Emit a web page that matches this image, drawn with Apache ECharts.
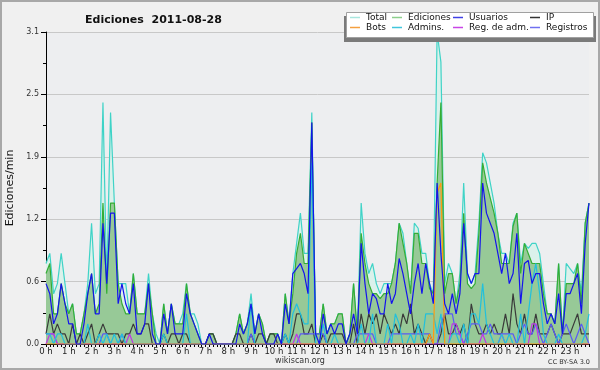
<!DOCTYPE html>
<html><head><meta charset="utf-8">
<script src="https://cdn.jsdelivr.net/npm/echarts@6/dist/echarts.min.js"></script>
<style>html,body{margin:0;padding:0;background:#f0f0f0}#c{width:600px;height:370px}</style>
</head><body><div id="c"></div>
<script>
const hourLabels = ['0 h','1 h','2 h','3 h','4 h','5 h','6 h','7 h','8 h','9 h','10 h','11 h','12 h','13 h','14 h','15 h','16 h','17 h','18 h','19 h','20 h','21 h','22 h','23 h'];
const minuteSlots = ['00','10','20','30','40','50'];
const yTicks = [0, 0.62, 1.24, 1.86, 2.48, 3.1];

// one row per hour, six 10-minute slots each
const total = [
0.8,0.9,0.5,0.6,0.9,0.6,  0.3,0.4,0.1,0.1,0.3,0.6,  1.2,0.5,0.6,2.4,0.6,2.3,  1.4,0.6,0.6,0.6,0.3,0.7,
0.3,0.3,0.3,0.7,0.3,0.1,  0,0.4,0.1,0.4,0.2,0.2,    0.3,0.6,0.3,0.3,0.2,0,    0,0.1,0.1,0,0,0,
0,0,0.1,0.3,0.1,0.2,      0.5,0.1,0.3,0.2,0,0.1,    0.1,0.1,0,0.5,0.2,0.7,    1.0,1.3,0.9,0.9,2.3,0.1,
0.1,0.4,0.1,0.2,0.2,0.3,  0.3,0,0.1,0.6,0.1,1.4,    0.9,0.7,0.8,0.6,0.5,0.6,  0.6,0.6,0.8,1.2,1.1,0.8,
0.5,1.2,1.15,0.9,0.9,0.6, 0.5,3.1,2.8,0.6,0.8,0.7,  0.4,0.7,1.6,0.7,0.6,0.7,  1.2,1.9,1.8,1.6,1.4,1.1,
0.9,0.9,0.8,1.2,1.3,0.8,  1.0,0.95,1.0,1.0,0.9,0.6, 0.3,0.3,0.2,0.8,0.1,0.8,  0.75,0.7,0.8,0.5,1.2,1.4];
const ediciones = [
0.7,0.8,0.3,0.3,0.6,0.4,  0.3,0.4,0.1,0.1,0.3,0.5,  0.7,0.3,0.4,1.4,0.5,1.4,  1.4,0.6,0.4,0.3,0.3,0.7,
0.3,0.3,0.3,0.6,0.3,0,    0,0.4,0.1,0.4,0.2,0.2,    0.2,0.6,0.3,0.2,0.1,0,    0,0.1,0.1,0,0,0,
0,0,0.1,0.3,0.1,0.2,      0.4,0.1,0.3,0.2,0,0.1,    0.1,0.1,0,0.5,0.2,0.5,    0.9,1.1,0.8,0.8,2.2,0.1,
0.1,0.4,0.1,0.2,0.2,0.3,  0.3,0,0.1,0.6,0.1,1.1,    0.8,0.6,0.5,0.5,0.45,0.5, 0.5,0.6,0.8,1.2,1.0,0.8,
0.5,1.1,1.1,0.8,0.8,0.55, 0.5,1.6,2.4,0.5,0.7,0.7,  0.4,0.6,1.3,0.6,0.55,0.6, 1.1,1.8,1.6,1.45,1.3,1.1,
0.8,0.8,0.8,1.17,1.3,0.7, 1.0,0.9,0.8,0.8,0.8,0.5,  0.3,0.3,0.2,0.8,0.1,0.6,  0.6,0.6,0.8,0.4,1.2,1.4];
const usuarios = [
0.6,0.5,0.2,0.3,0.6,0.4,  0.2,0.2,0,0,0.2,0.5,      0.7,0.3,0.3,1.2,0.6,1.3,  1.3,0.4,0.6,0.4,0.3,0.6,
0.1,0.1,0.2,0.6,0.1,0,    0,0.3,0.1,0.4,0.1,0.1,    0.1,0.5,0.3,0.2,0.1,0,    0,0.1,0,0,0,0,
0,0,0,0.2,0.1,0.2,        0.4,0.1,0.3,0.1,0,0,      0,0.1,0,0.4,0.2,0.7,      0.75,0.8,0.7,0.5,2.2,0.1,
0,0.3,0.1,0.2,0.1,0.2,    0.2,0,0.1,0.3,0.1,1.0,    0.6,0.3,0.5,0.45,0.3,0.3, 0.6,0.4,0.5,0.85,0.7,0.5,
0.3,0.6,0.8,0.5,0.8,0.6,  0.4,1.6,0.9,0.4,0.3,0.5,  0.3,0.5,1.2,0.7,0.6,0.7,  0.7,1.6,1.3,1.2,1.1,0.9,
0.7,0.9,0.6,0.7,1.1,0.4,  0.8,0.83,0.6,0.7,0.7,0.4, 0.2,0.3,0.2,0.5,0.1,0.5,  0.5,0.6,0.7,0.3,1.0,1.4];
const ip = [
0.1,0.3,0.1,0.2,0.1,0.1,  0,0.2,0,0.1,0,0.1,        0.2,0,0.1,0.2,0.1,0.1,    0.1,0.1,0,0.1,0.1,0.2,
0.1,0.1,0.2,0.2,0,0,      0,0.1,0,0.1,0.1,0,        0.1,0.1,0,0,0,0,          0,0.1,0.1,0,0,0,
0,0,0.1,0.1,0,0,          0.1,0,0.1,0.1,0,0.1,      0.1,0,0,0.1,0,0.1,        0.3,0.3,0.1,0.1,0.2,0,
0,0.1,0,0.1,0.1,0.1,      0.1,0,0,0.2,0,0.3,        0.1,0.3,0.2,0.3,0.1,0.3,  0.2,0.1,0.2,0.1,0.3,0.2,
0.4,0.1,0.2,0.1,0,0.1,    0,0,0.1,0.3,0.1,0.1,      0.2,0.1,0.2,0,0.4,0.2,    0.1,0.1,0.2,0.1,0.2,0.1,
0.1,0.3,0.1,0.5,0.2,0.1,  0.3,0.1,0.1,0.3,0.1,0.1,  0.1,0.2,0.1,0,0.1,0.1,    0.1,0.2,0.3,0.1,0.1,0.1];
const bots = [
0,0,0,0,0,0, 0,0,0,0,0,0, 0,0,0,0,0,0, 0,0,0,0,0,0,
0,0,0,0,0,0, 0,0,0,0,0,0, 0,0,0,0,0,0, 0,0,0,0,0,0,
0,0,0,0,0,0, 0,0,0,0,0,0, 0,0,0,0,0,0, 0,0,0,0,0,0,
0,0,0,0,0,0, 0,0,0,0,0,0, 0,0,0,0,0,0, 0,0,0,0,0,0,
0,0,0,0,0,0.1, 0,1.5,1.6,0,0,0, 0,0,0,0,0,0, 0,0,0,0,0,0,
0,0,0,0,0,0, 0,0,0,0,0,0, 0,0,0,0,0,0, 0,0,0,0,0,0];
const admins = [
0.1,0.1,0,0.1,0.1,0,  0,0,0,0,0,0.2,      0,0,0.1,0,0.1,0,    0.1,0,0.1,0,0,0,
0,0,0,0,0,0,          0,0.1,0,0,0,0,      0,0.3,0,0,0,0,      0,0,0,0,0,0,
0,0,0,0,0,0,          0.4,0,0,0,0,0,      0,0,0,0.1,0,0.3,    0.4,0.3,0.2,0.2,1.8,0,
0,0.2,0,0,0.1,0,      0,0,0,0,0,0.2,      0,0,0.3,0,0,0,      0.2,0,0.3,0.2,0,0,
0.1,0,0.2,0,0.3,0.3,  0.3,0.1,0.3,0,0,0.1,  0.1,0,0.2,0,0.3,0.3,  0.2,0.6,0.2,0.1,0,0,
0.1,0,0.1,0,0,0.3,    0,0.3,0.6,0.8,0.5,0.1,  0,0,0,0.1,0,0,    0,0,0,0,0.1,0.3];
const regAdm = [
0,0.1,0.1,0,0,0, 0,0,0,0,0,0, 0,0,0,0,0,0, 0,0,0,0,0.1,0,
0,0,0,0,0,0, 0,0,0,0,0,0, 0,0,0,0,0,0, 0,0,0,0,0,0,
0,0,0,0,0,0, 0,0,0,0,0,0, 0,0,0,0,0,0, 0.1,0,0,0,0,0,
0,0,0,0,0,0, 0,0,0,0,0,0, 0,0.1,0,0,0,0, 0,0,0,0,0,0,
0,0,0,0,0,0, 0,0,0,0,0,0.2, 0.2,0.1,0,0,0,0, 0,0.1,0,0,0,0,
0.1,0,0,0,0,0, 0,0,0.2,0.2,0,0, 0,0,0,0,0,0, 0,0,0,0,0,0];
const registros = [
0.1,0.1,0.1,0,0,0, 0,0,0,0,0,0, 0,0,0,0.1,0.1,0, 0,0,0.1,0,0,0,
0,0,0,0,0,0, 0,0,0,0,0,0, 0,0,0,0,0,0, 0,0,0,0,0,0,
0,0,0,0,0,0, 0.1,0,0,0,0,0, 0,0,0,0,0,0, 0,0.1,0.1,0.1,0.1,0.1,
0.1,0.1,0,0,0,0, 0,0,0,0,0.1,0.1, 0.1,0.1,0.1,0,0,0, 0,0.1,0.1,0.1,0.1,0.1,
0.1,0.1,0.1,0.1,0.1,0.1, 0,0,0.2,0.3,0.3,0.3, 0.1,0.1,0,0.1,0.2,0.2, 0.2,0.1,0.1,0.2,0.1,0.1,
0.1,0.1,0.1,0.1,0,0.1, 0.2,0.1,0.1,0.2,0.1,0, 0.1,0.2,0.1,0,0.1,0.2, 0.1,0,0.1,0.2,0.1,0];

const categories = [];
hourLabels.forEach(h => minuteSlots.forEach(m => categories.push(h.replace(' h','') + ':' + m)));

const F = 'DejaVu Sans';
function lineSeries(name, data, color, z, extra) {
  return Object.assign({
    name, type: 'line', data, symbol: 'none', z,
    lineStyle: { color, width: 1.2 }, itemStyle: { color },
    emphasis: { disabled: true }, animation: false
  }, extra || {});
}
const series = [
  lineSeries('Total', total, '#3fd3c7', 1, { areaStyle: { color: '#dbf1eb', opacity: 1 } }),
  lineSeries('Ediciones', ediciones, '#35ad35', 2, { areaStyle: { color: '#97c997', opacity: 1 } }),
  lineSeries('IP', ip, '#3a3a3a', 3),
  lineSeries('Registros', registros, '#5a5af5', 4),
  lineSeries('Reg. de adm.', regAdm, '#c036e6', 5),
  lineSeries('Admins.', admins, '#22c0dc', 6),
  lineSeries('Bots', bots, '#ff9a10', 7),
  lineSeries('Usuarios', usuarios, '#1414ec', 8)
];
const legendItems = [
  ['Total', '#a8e6de', 350, 13], ['Ediciones', '#8ccf8c', 392, 13], ['Usuarios', '#4040e6', 453, 13], ['IP', '#333333', 530, 13],
  ['Bots', '#f5a040', 350, 23], ['Admins.', '#40c6dc', 392, 23], ['Reg. de adm.', '#c846e6', 453, 23], ['Registros', '#7070f0', 530, 23]
];
const legends = legendItems.map(([n, c, l, t]) => ({
  data: [{ name: n, itemStyle: { color: c } }], left: l, top: t, icon: 'rect', z: 80,
  itemWidth: 10, itemHeight: 1.5, itemGap: 0, padding: 0, selectedMode: false,
  textStyle: { fontFamily: F, fontSize: 9, color: '#111', padding: [0, 0, 0, 1] }
}));

const chart = echarts.init(document.getElementById('c'), null, { renderer: 'canvas' });
chart.setOption({
  backgroundColor: '#f0f0f0',
  animation: false,
  title: { text: 'Ediciones  2011-08-28', left: 80, top: 10,
    textStyle: { fontFamily: F, fontSize: 11, fontWeight: 'bold', color: '#111' } },
  legend: legends,
  grid: { left: 46, right: 11, top: 32, bottom: 26, show: true, backgroundColor: '#edeef0', borderWidth: 0, outerBoundsMode: 'none', containLabel: false },
  xAxis: {
    type: 'category', data: categories, boundaryGap: false,
    axisLine: { lineStyle: { color: '#000', width: 1 } },
    axisTick: { interval: 0, length: 3, lineStyle: { color: '#000' } },
    axisLabel: { interval: 5, margin: 3, fontFamily: F, fontSize: 8.5, color: '#222',
      formatter: (v, i) => hourLabels[Math.floor(i / 6)] },
    splitLine: { show: false }
  },
  yAxis: {
    type: 'value', min: yTicks[0], max: yTicks[yTicks.length - 1], interval: yTicks[1],
    name: 'Ediciones/min', nameLocation: 'middle', nameGap: 28, nameRotate: 90,
    nameTextStyle: { fontFamily: F, fontSize: 11, color: '#111' },
    axisLine: { show: true, lineStyle: { color: '#000' } },
    axisTick: { show: true, length: 5, lineStyle: { color: '#000' } },
    minorTick: { show: true, splitNumber: 2, length: 3, lineStyle: { color: '#000' } },
    axisLabel: { fontFamily: F, fontSize: 8, color: '#333', margin: 7, formatter: v => v.toFixed(1) },
    splitLine: { lineStyle: { color: '#c8c8c8', width: 1 } }
  },
  series,
  graphic: [
    { type: 'rect', shape: { x: 1, y: 1, width: 598, height: 368 }, style: { fill: 'none', stroke: '#a8a8a8', lineWidth: 2 }, z: 100, silent: true },
    { type: 'rect', shape: { x: 344, y: 16, width: 252, height: 26 }, style: { fill: '#7a7a7a' }, z: 50, silent: true },
    { type: 'rect', shape: { x: 346.5, y: 12.5, width: 247, height: 25 }, style: { fill: '#ffffff', stroke: '#a0a0a0', lineWidth: 1 }, z: 51, silent: true },
    { type: 'text', x: 300, y: 361, style: { text: 'wikiscan.org', fontFamily: F, fontSize: 8, fill: '#333', align: 'center', verticalAlign: 'middle' }, z: 60, silent: true },
    { type: 'text', x: 590, y: 362, style: { text: 'CC BY-SA 3.0', fontFamily: F, fontSize: 6.5, fill: '#333', align: 'right', verticalAlign: 'middle' }, z: 60, silent: true }
  ]
});
</script></body></html>
